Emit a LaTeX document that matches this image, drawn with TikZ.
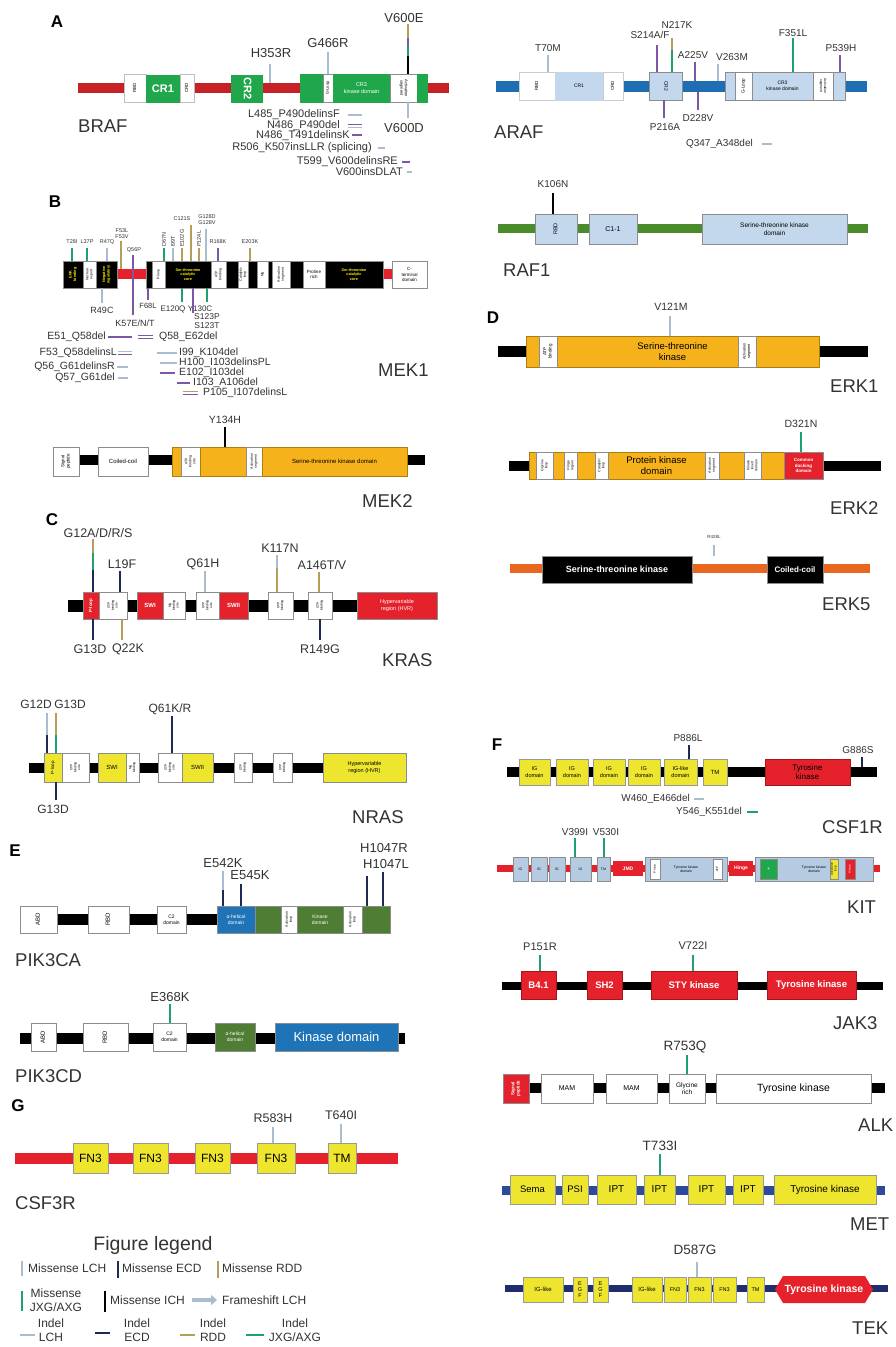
\documentclass[tikz,border=0pt]{standalone}
\usepackage{fontspec}
\setmainfont{Liberation Sans}
\usepackage{graphicx}
\usetikzlibrary{arrows.meta}
\definecolor{bred}{HTML}{C62127}
\definecolor{bgreen}{HTML}{21A74B}
\definecolor{ablue}{HTML}{1F6EB4}
\definecolor{lblue}{HTML}{C3D8EC}
\definecolor{rgreen}{HTML}{4A8B2C}
\definecolor{orng}{HTML}{F6B21B}
\definecolor{kred}{HTML}{E5222B}
\definecolor{kyel}{HTML}{EEE62E}
\definecolor{pblue}{HTML}{1F74B8}
\definecolor{pgreen}{HTML}{4F7D33}
\definecolor{eorg}{HTML}{E8661E}
\definecolor{metblue}{HTML}{2B4A9B}
\definecolor{tekblue}{HTML}{1F2C6E}
\definecolor{cLCH}{HTML}{A8BDCF}
\definecolor{cECD}{HTML}{1D2A55}
\definecolor{cRDD}{HTML}{B59D5A}
\definecolor{cJXG}{HTML}{1FA06E}
\definecolor{cPUR}{HTML}{7B57A5}
\definecolor{txt}{HTML}{333333}
\definecolor{kitblue}{HTML}{B4CBE2}
\newcommand\fz[1]{\fontsize{#1}{\the\dimexpr #1pt*23/20\relax}\selectfont}
\newcommand\rt[1]{\rotatebox{90}{\begin{tabular}{@{}c@{}}#1\end{tabular}}}
\newcommand\rtm[1]{\rotatebox{-90}{\begin{tabular}{@{}c@{}}#1\end{tabular}}}
\newcommand\dom[7]{\node[dombox,minimum width={(#3-#2)*1pt},minimum height={(#5-#4)*1pt},#6] (#1) at ({(#2+#3)/2},{(#4+#5)/2}) {#7};}
\newcommand\mk[4]{\draw[mkline,#4] (#1,#2) -- (#1,#3);}
\newcommand\il[4]{\draw[illine,#4] (#1,#3) -- (#2,#3);}
\newcommand\lb[6]{\node[lab,font=\fz{#4},#5] (#1) at (#2,#3) {#6};}
\newcommand\bk[5]{\fill[#5] (#1,#3) rectangle (#2,#4);}
\tikzset{
 dombox/.style={draw=black!45, line width=0.4pt, inner sep=0pt, outer sep=0pt, align=center, font=\fz{5}},
 lab/.style={inner sep=0pt, text=txt},
 gname/.style={inner sep=0pt, anchor=west, text=txt, font=\fz{18.5}},
 panel/.style={inner sep=0pt, font=\bfseries\fz{17}, text=black},
 mkline/.style={line width=1.5pt},
 illine/.style={line width=1.4pt},
 mekb/.style={fill=black,text=yellow,font=\bfseries\fz{3.8}},
 mekw/.style={fill=white,font=\fz{3.5}},
 kr/.style={fill=kred,text=white,font=\bfseries\fz{6}},
 kw/.style={fill=white,font=\fz{3.3}},
 ny/.style={fill=kyel,font=\fz{6}},
 kb/.style={fill=kitblue,font=\fz{3.5}},
 yb/.style={fill=kyel,draw=black!40,font=\fz{9}},
 rlab/.style={lab,font=\fz{5.5},rotate=90,anchor=west},
}
\begin{document}
\begin{tikzpicture}[x=1pt,y=-1pt]
\useasboundingbox (0,0) rectangle (896,1347);
\fill[white] (0,0) rectangle (896,1347);

%% ---------------- A: BRAF
\node[panel] (pA) at (57,22) {A};
\bk{78}{449}{83}{93}{bred}
\dom{brafRBD}{124}{146}{74}{102}{fill=white,draw=black!25,font=\fz{4.5}}{\rt{RBD}}
\dom{brafCR1}{146}{180}{75}{102}{fill=bgreen,draw=bgreen,text=white,font=\bfseries\fz{11}}{CR1}
\dom{brafCRD}{180}{194}{74}{102}{fill=white,draw=black!25,font=\fz{4.5}}{\rt{CRD}}
\dom{brafCR2}{231}{262}{75}{102}{fill=bgreen,draw=bgreen,text=white,font=\bfseries\fz{11}}{\rtm{CR2}}
\dom{brafKa}{300}{323}{74}{102}{fill=bgreen,draw=bgreen}{}
\dom{brafGL}{323}{333}{74}{102}{fill=white,font=\fz{4}}{\rt{G-Loop}}
\dom{brafCR3}{333}{390}{74}{102}{fill=bgreen,draw=bgreen,text=white,font=\fz{5.5}}{CR3\\kinase domain}
\dom{brafAS}{390}{417}{74}{102}{fill=white,font=\fz{4}}{\rtm{Activation\\segment}}
\dom{brafKb}{417}{427}{74}{102}{fill=bgreen,draw=bgreen}{}
\lb{mH353R}{271}{53}{13}{}{H353R} \mk{270}{64}{83}{cLCH}
\lb{mG466R}{328}{43}{13}{}{G466R} \mk{328}{52}{74}{cLCH}
\lb{mV600E}{404}{18}{13}{}{V600E}
\mk{408}{24}{38}{cRDD}\mk{408}{38}{46}{cPUR}\mk{408}{46}{56}{cJXG}\mk{408}{56}{74}{black}
\lb{mV600D}{404}{128}{13}{}{V600D} \mk{408}{102}{118}{cLCH}
\lb{iB1}{340}{115}{11}{anchor=east}{L485\_P490delinsF} \il{348}{362}{115}{cLCH}
\lb{iB2}{340}{126}{11}{anchor=east}{N486\_P490del} \il{348}{362}{124.5}{cPUR}\il{348}{362}{127.5}{cLCH}
\lb{iB3}{350}{136}{11}{anchor=east}{N486\_T491delinsK} \il{352}{362}{135}{cPUR}
\lb{iB4}{372}{148}{11}{anchor=east}{R506\_K507insLLR (splicing)} \il{378}{385}{148}{cLCH}
\lb{iB5}{398}{162}{11}{anchor=east}{T599\_V600delinsRE} \il{402}{410}{162}{cPUR}
\lb{iB6}{403}{172}{11}{anchor=east}{V600insDLAT} \il{407}{412}{172}{cLCH}
\node[gname] (gBRAF) at (78,126) {BRAF};

%% ---------------- ARAF
\bk{496}{867}{81}{92}{ablue}
\dom{arafRBD}{519}{555}{72}{100}{fill=white,draw=black!20,font=\fz{4.5}}{\rt{RBD}}
\dom{arafCR1}{555}{603}{72}{100}{fill=lblue,draw=lblue,font=\fz{5}}{CR1}
\dom{arafCRD}{603}{623}{72}{100}{fill=white,draw=black!20,font=\fz{4.5}}{\rt{CRD}}
\dom{arafCR2}{649}{682}{72}{100}{fill=lblue,font=\fz{5}}{\rtm{CR2}}
\dom{arafKa}{725}{735}{72}{100}{fill=lblue}{}
\dom{arafGL}{735}{752}{72}{100}{fill=white,font=\fz{4.5}}{\rt{G-Loop}}
\dom{arafCR3}{752}{813}{72}{100}{fill=lblue,font=\fz{5}}{CR3\\kinase domain}
\dom{arafAS}{813}{833}{72}{100}{fill=white,font=\fz{3.5}}{\rtm{Activation\\segment}}
\dom{arafKb}{833}{845}{72}{100}{fill=lblue}{}
\lb{mT70M}{548}{48}{10}{}{T70M} \mk{548}{55}{72}{cLCH}
\lb{mS214}{650}{35}{10}{}{S214A/F} \mk{657}{45}{72}{cPUR}
\lb{mN217K}{677}{25}{10}{}{N217K} \mk{672}{38}{50}{cRDD}\mk{672}{50}{72}{cJXG}
\lb{mA225V}{693}{55}{10}{}{A225V} \mk{695}{62}{81}{cPUR}
\lb{mV263M}{732}{57}{10}{}{V263M} \mk{718}{64}{81}{cLCH}
\lb{mF351L}{793}{33}{10}{}{F351L} \mk{793}{38}{72}{cJXG}
\lb{mP539H}{841}{48}{10}{}{P539H} \mk{840}{55}{72}{cPUR}
\lb{mP216A}{665}{127}{10}{}{P216A} \mk{664}{100}{118}{cPUR}
\lb{mD228V}{698}{118}{10}{}{D228V} \mk{698}{92}{110}{cPUR}
\lb{iA1}{753}{144}{10}{anchor=east}{Q347\_A348del} \il{762}{772}{144}{cLCH}
\node[gname] (gARAF) at (494,132) {ARAF};

%% ---------------- RAF1
\bk{498}{868}{224}{233}{rgreen}
\dom{rafRBD}{535}{577}{214}{244}{fill=lblue,font=\fz{5.5}}{\rt{RBD}}
\dom{rafC1}{589}{637}{214}{244}{fill=lblue,font=\fz{7}}{C1-1}
\dom{rafKD}{702}{847}{214}{244}{fill=lblue,font=\fz{6.5}}{Serine-threonine kinase\\domain}
\lb{mK106N}{553}{184}{10}{}{K106N} \mk{553}{193}{214}{black}
\node[gname] (gRAF1) at (503,270) {RAF1};

%% ---------------- B: MEK1
\node[panel] (pB) at (55,202) {B};
\bk{100}{400}{269}{279}{kred}
\dom{mkA}{63}{83}{261}{288}{mekb}{\rt{ERK\\binding}}
\dom{mkB}{83}{96}{261}{288}{mekw}{\rt{Nuclear\\export}}
\dom{mkC}{96}{117}{261}{288}{mekb}{\rt{Negative\\regulatory}}
\dom{mkD}{146}{152}{261}{288}{mekb}{}
\dom{mkE}{152}{165}{261}{288}{mekw}{\rt{P-loop}}
\dom{mkF}{165}{211}{261}{288}{mekb}{Ser-threonine\\catalytic\\core}
\dom{mkG}{211}{226}{261}{288}{mekw}{\rt{ATP\\binding}}
\dom{mkH}{226}{238}{261}{288}{mekb}{}
\dom{mkI}{238}{248}{261}{288}{mekw}{\rt{Catalytic\\loop}}
\dom{mkJ}{248}{257}{261}{288}{mekb}{}
\dom{mkK}{257}{268}{261}{288}{mekw}{\rt{Mg}}
\dom{mkL}{268}{272}{261}{288}{mekb}{}
\dom{mkM}{272}{290}{261}{288}{mekw}{\rt{Activation\\segment}}
\dom{mkN}{290}{303}{261}{288}{mekb}{}
\dom{mkO}{303}{325}{261}{288}{mekw,font=\fz{4.5}}{Proline\\rich}
\dom{mkP}{325}{383}{261}{288}{mekb}{Ser-threonine\\catalytic\\core}
\dom{mkQ}{392}{427}{261}{288}{mekw,font=\fz{4.5}}{C-\\terminal\\domain}
% above
\lb{mT28I}{72}{242}{5.5}{}{T28I} \mk{72}{248}{261}{cJXG}
\lb{mL37P}{87}{242}{5.5}{}{L37P} \mk{87}{248}{261}{cJXG}
\lb{mR47Q}{107}{242}{5.5}{}{R47Q} \mk{107}{248}{261}{cLCH}
\lb{mF53L}{122}{231}{5.5}{}{F53L} \lb{mF53V}{122}{237}{5.5}{}{F53V} \mk{121}{241}{269}{cRDD}
\lb{mQ56P}{134}{250}{5.5}{}{Q56P} \mk{133}{255}{315}{cPUR}
\node[rlab] (mD67N) at (164,247) {D67N}; \mk{164}{248}{261}{cJXG}
\node[rlab] (mI99T) at (173,247) {I99T}; \mk{173}{248}{261}{cLCH}
\node[rlab] (mE102G) at (182,247) {E102G}; \mk{182}{248}{261}{cRDD}
\lb{mC121S}{182}{219}{5.5}{}{C121S} \mk{191}{225}{261}{cRDD}
\node[rlab] (mP124L) at (199,247) {P124L}; \mk{199}{248}{261}{cRDD}
\lb{mG128D}{207}{217}{5.5}{}{G128D} \lb{mG128V}{207}{223}{5.5}{}{G128V} \mk{206}{229}{261}{cLCH}
\lb{mR168K}{218}{242}{5.5}{}{R168K} \mk{218}{248}{261}{cPUR}
\lb{mE203K}{250}{242}{5.5}{}{E203K} \mk{250}{248}{261}{cRDD}
% below
\lb{mR49C}{102}{310}{9}{}{R49C} \mk{102}{288}{303}{cLCH}
\lb{mF68L}{148}{306}{7.5}{}{F68L} \mk{148}{288}{300}{cPUR}
\lb{mE120Q}{173}{309}{8}{}{E120Q} \mk{182}{288}{302}{cJXG}
\lb{mY130C}{200}{309}{8}{}{Y130C} \mk{207}{288}{302}{cJXG}
\lb{mS123P}{207}{317}{8.5}{}{S123P} \lb{mS123T}{207}{326}{8.5}{}{S123T} \mk{193}{288}{313}{cPUR}
\lb{mK57}{135}{323}{9}{}{K57E/N/T}
% indels
\lb{iM1}{106}{337}{10.5}{anchor=east}{E51\_Q58del} \il{108}{132}{337}{cPUR}
\il{138}{153}{335.5}{cPUR}\il{138}{153}{338.5}{cPUR}
\lb{iM2}{159}{337}{10.5}{anchor=west}{Q58\_E62del}
\lb{iM3}{117}{353}{10.5}{anchor=east}{F53\_Q58delinsL} \il{118}{132}{351.5}{cLCH}\il{118}{132}{354.5}{cPUR}
\lb{iM4}{179}{353}{10.5}{anchor=west}{I99\_K104del} \il{157}{177}{353}{cLCH}
\lb{iM5}{115}{367}{10.5}{anchor=east}{Q56\_G61delinsR} \il{117}{128}{367}{cLCH}
\lb{iM6}{179}{363}{10.5}{anchor=west}{H100\_I103delinsPL} \il{160}{177}{363}{cLCH}
\lb{iM7}{115}{378}{10.5}{anchor=east}{Q57\_G61del} \il{118}{128}{378}{cLCH}
\lb{iM8}{179}{373}{10.5}{anchor=west}{E102\_I103del} \il{160}{175}{373}{cPUR}
\lb{iM9}{193}{383}{10.5}{anchor=west}{I103\_A106del} \il{177}{190}{383}{cPUR}
\lb{iM10}{203}{393}{10.5}{anchor=west}{P105\_I107delinsL} \il{183}{198}{391.5}{cRDD}\il{183}{198}{394.5}{cPUR}
\node[gname] (gMEK1) at (378,370) {MEK1};

%% ---------------- MEK2
\bk{79}{425}{455}{465}{black}
\dom{m2SP}{53}{79}{447}{476}{fill=white,font=\fz{4.5}}{\rt{Signal\\peptide}}
\dom{m2CC}{98}{148}{447}{476}{fill=white,font=\fz{6}}{Coiled-coil}
\dom{m2a}{172}{181}{447}{476}{fill=orng,draw=orng!70!black}{}
\dom{m2b}{181}{200}{447}{476}{fill=white,font=\fz{3.5}}{\rt{ATP\\binding\\site}}
\dom{m2c}{200}{246}{447}{476}{fill=orng,draw=orng!70!black}{}
\dom{m2d}{246}{262}{447}{476}{fill=white,font=\fz{3.5}}{\rt{Activation\\segment}}
\dom{m2e}{262}{407}{447}{476}{fill=orng,draw=orng!70!black,font=\fz{6}}{Serine-threonine kinase domain}
\lb{mY134H}{225}{420}{10.5}{}{Y134H} \mk{225}{427}{447}{black}
\node[gname] (gMEK2) at (362,501) {MEK2};

%% ---------------- C: KRAS
\node[panel] (pC) at (52,520) {C};
\bk{68}{357}{600}{612}{black}
\dom{krA}{83}{99}{592}{619}{kr,font=\bfseries\fz{4.5}}{\rt{P-loop}}
\dom{krB}{99}{127}{592}{619}{kw}{\rt{GTP\\binding\\site}}
\dom{krC}{137}{163}{592}{619}{kr}{SWI}
\dom{krD}{163}{185}{592}{619}{kw}{\rt{Mg\\binding\\site}}
\dom{krE}{196}{219}{592}{619}{kw}{\rt{GTP\\binding\\site}}
\dom{krF}{219}{248}{592}{619}{kr}{SWII}
\dom{krG}{268}{293}{592}{619}{kw}{\rt{GTP\\binding}}
\dom{krH}{308}{332}{592}{619}{kw}{\rt{GTP\\binding}}
\dom{krI}{357}{437}{592}{619}{kr,font=\fz{5.5}}{Hypervariable\\region (HVR)}
\lb{mG12}{98}{533}{12.5}{}{G12A/D/R/S}
\mk{93}{539}{553}{cRDD}\mk{93}{553}{570}{cJXG}\mk{93}{570}{592}{cECD}
\lb{mL19F}{122}{564}{12.5}{}{L19F} \mk{120}{571}{592}{cECD}
\lb{mQ61H}{203}{564}{12.5}{}{Q61H} \mk{205}{571}{592}{cLCH}
\lb{mK117N}{280}{548}{12.5}{}{K117N} \mk{277}{555}{568}{cLCH}\mk{277}{568}{592}{cRDD}
\lb{mA146}{322}{565}{12.5}{}{A146T/V} \mk{319}{572}{592}{cRDD}
\lb{mG13Dk}{90}{649}{12.5}{}{G13D} \mk{93}{619}{640}{cECD}
\lb{mQ22K}{128}{649}{12.5}{}{Q22K} \mk{122}{619}{640}{cRDD}
\lb{mR149G}{320}{649}{12.5}{}{R149G} \mk{320}{619}{640}{cECD}
\node[gname] (gKRAS) at (382,660) {KRAS};

%% ---------------- NRAS
\bk{29}{323}{763}{773}{black}
\dom{nrA}{44}{62}{753}{782}{ny,font=\fz{4.5}}{\rt{P-loop}}
\dom{nrB}{62}{89}{753}{782}{kw}{\rt{GTP\\binding\\site}}
\dom{nrC}{98}{126}{753}{782}{ny}{SWI}
\dom{nrD}{126}{139}{753}{782}{kw}{\rt{Mg\\binding}}
\dom{nrE}{158}{182}{753}{782}{kw}{\rt{GTP\\binding\\site}}
\dom{nrF}{182}{213}{753}{782}{ny}{SWII}
\dom{nrG}{234}{252}{753}{782}{kw}{\rt{GTP\\binding}}
\dom{nrH}{273}{292}{753}{782}{kw}{\rt{GTP\\binding}}
\dom{nrI}{323}{406}{753}{782}{ny,font=\fz{5.5}}{Hypervariable\\region (HVR)}
\lb{mG12D}{36}{704}{12}{}{G12D}
\lb{mG13Dn}{70}{704}{12}{}{G13D}
\lb{mQ61KR}{170}{709}{12}{}{Q61K/R}
\mk{47}{713}{735}{cLCH}\mk{47}{735}{753}{cECD}
\mk{56}{713}{735}{cRDD}\mk{56}{735}{753}{cJXG}
\mk{172}{716}{753}{cECD}
\lb{mG13Db}{53}{809}{12}{}{G13D} \mk{56}{782}{800}{cECD}
\node[gname] (gNRAS) at (352,817) {NRAS};

%% ---------------- E: PIK3CA
\node[panel] (pE) at (15,851) {E};
\bk{20}{390}{914}{925}{black}
\dom{p1A}{20}{57}{906}{933}{fill=white,font=\fz{6}}{\rt{ABD}}
\dom{p1B}{88}{129}{906}{933}{fill=white,font=\fz{6}}{\rt{RBD}}
\dom{p1C}{157}{186}{906}{933}{fill=white,font=\fz{5}}{C2\\domain}
\dom{p1D}{217}{255}{906}{933}{fill=pblue,text=white,font=\fz{5}}{α-helical\\domain}
\dom{p1E}{255}{281}{906}{933}{fill=pgreen}{}
\dom{p1F}{281}{297}{906}{933}{fill=white,font=\fz{3.5}}{\rt{Activation\\loop}}
\dom{p1G}{297}{343}{906}{933}{fill=pgreen,text=white,font=\fz{5}}{Kinase\\domain}
\dom{p1H}{343}{362}{906}{933}{fill=white,font=\fz{3.5}}{\rt{Activation\\loop}}
\dom{p1I}{362}{390}{906}{933}{fill=pgreen}{}
\lb{mE542K}{223}{863}{13}{}{E542K} \mk{223}{871}{890}{cLCH}\mk{223}{890}{906}{cECD}
\lb{mE545K}{250}{875}{13}{}{E545K} \mk{241}{884}{906}{cECD}
\lb{mH1047R}{384}{848}{13}{}{H1047R} \lb{mH1047L}{386}{864}{13}{}{H1047L}
\mk{367}{876}{906}{cECD}\mk{383}{872}{906}{cECD}
\node[gname] (gPIK3CA) at (15,960) {PIK3CA};

%% ---------------- PIK3CD
\bk{20}{405}{1033}{1044}{black}
\dom{p2A}{31}{56}{1023}{1051}{fill=white,font=\fz{6}}{\rt{ABD}}
\dom{p2B}{83}{128}{1023}{1051}{fill=white,font=\fz{6}}{\rt{RBD}}
\dom{p2C}{153}{186}{1023}{1051}{fill=white,font=\fz{5}}{C2\\domain}
\dom{p2D}{215}{255}{1023}{1051}{fill=pgreen,text=white,font=\fz{5}}{α-helical\\domain}
\dom{p2E}{275}{398}{1023}{1051}{fill=pblue,text=white,font=\fz{13}}{Kinase domain}
\lb{mE368K}{170}{997}{13}{}{E368K} \mk{170}{1004}{1023}{cJXG}
\node[gname] (gPIK3CD) at (15,1076) {PIK3CD};

%% ---------------- G: CSF3R
\node[panel] (pG) at (18,1106) {G};
\bk{15}{398}{1153}{1164}{kred}
\dom{c3A}{73}{108}{1143}{1173}{yb,font=\fz{12}}{FN3}
\dom{c3B}{133}{168}{1143}{1173}{yb,font=\fz{12}}{FN3}
\dom{c3C}{195}{230}{1143}{1173}{yb,font=\fz{12}}{FN3}
\dom{c3D}{257}{295}{1143}{1173}{yb,font=\fz{12}}{FN3}
\dom{c3E}{328}{356}{1143}{1173}{yb,font=\fz{12}}{TM}
\lb{mR583H}{273}{1118}{12.5}{}{R583H} \mk{273}{1127}{1143}{cLCH}
\lb{mT640I}{341}{1115}{12.5}{}{T640I} \mk{341}{1124}{1143}{cLCH}
\node[gname] (gCSF3R) at (15,1203) {CSF3R};

%% legend
\node[lab,font=\fz{19.5}] (legT) at (153,1245) {Figure legend};
\mk{22}{1261}{1276}{cLCH} \lb{lg1}{28}{1268}{12}{anchor=west}{Missense LCH}
\mk{118}{1261}{1278}{cECD} \lb{lg2}{122}{1268}{12}{anchor=west}{Missense ECD}
\mk{218}{1261}{1278}{cRDD} \lb{lg3}{222}{1268}{12}{anchor=west}{Missense RDD}
\mk{22}{1291}{1311}{cJXG} \node[lab,font=\fz{12},align=center] (lg4) at (56,1300) {Missense\\JXG/AXG};
\mk{105}{1291}{1312}{black} \lb{lg5}{110}{1300}{12}{anchor=west}{Missense ICH}
\coordinate (arA) at (192,1300); \coordinate (arB) at (217,1300);
\draw[line width=4pt,cLCH,-{Triangle[length=6pt,width=10pt]}] (arA) -- (arB);
\lb{lg6}{222}{1300}{12}{anchor=west}{Frameshift LCH}
\il{20}{35}{1335}{cLCH} \node[lab,font=\fz{12},align=center] (lg7) at (51,1330) {Indel\\LCH};
\il{95}{110}{1333}{cECD} \node[lab,font=\fz{12},align=center] (lg8) at (137,1330) {Indel\\ECD};
\il{180}{195}{1335}{cRDD} \node[lab,font=\fz{12},align=center] (lg9) at (213,1330) {Indel\\RDD};
\il{246}{264}{1335}{cJXG} \node[lab,font=\fz{12},align=center] (lg10) at (295,1330) {Indel\\JXG/AXG};

%% ---------------- D: ERK
\node[panel] (pD) at (493,318) {D};
\bk{498}{868}{346}{357}{black}
\dom{e1}{526}{819}{336}{367}{fill=orng,draw=orng!70!black,font=\fz{9.5}}{Serine-threonine\\kinase}
\dom{e1a}{539}{557}{336}{367}{fill=white,font=\fz{4.5}}{\rt{ATP\\binding}}
\dom{e1b}{738}{756}{336}{367}{fill=white,font=\fz{3.8}}{\rt{Activation\\segment}}
\lb{mV121M}{671}{307}{10.5}{}{V121M} \mk{670}{316}{336}{cLCH}
\node[gname] (gERK1) at (830,386) {ERK1};
\bk{509}{881}{461}{471}{black}
\dom{e2}{529}{784}{452}{479}{fill=orng,draw=orng!70!black,font=\fz{9.5}}{Protein kinase\\domain}
\dom{e2a}{536}{553}{452}{479}{fill=white,font=\fz{3.5}}{\rt{Glycine\\loop}}
\dom{e2b}{564}{577}{452}{479}{fill=white,font=\fz{3.5}}{\rt{Hinge\\region}}
\dom{e2c}{595}{608}{452}{479}{fill=white,font=\fz{3.5}}{\rt{Catalytic\\loop}}
\dom{e2d}{705}{719}{452}{479}{fill=white,font=\fz{3.5}}{\rt{Activation\\segment}}
\dom{e2e}{744}{761}{452}{479}{fill=white,font=\fz{3.5}}{\rt{Kinase\\insert\\domain}}
\dom{e2f}{784}{823}{452}{479}{fill=kred,text=white,font=\bfseries\fz{4.5}}{Common\\docking\\domain}
\lb{mD321N}{801}{424}{10.5}{}{D321N} \mk{801}{432}{452}{cJXG}
\node[gname] (gERK2) at (830,508) {ERK2};
\bk{510}{870}{564}{573}{eorg}
\dom{e5a}{542}{692}{556}{583}{fill=black,text=white,font=\bfseries\fz{9}}{Serine-threonine kinase}
\dom{e5b}{767}{823}{556}{583}{fill=black,text=white,font=\bfseries\fz{8}}{Coiled-coil}
\lb{mR428L}{714}{537}{4.5}{}{R428L} \mk{714}{545}{556}{cLCH}
\node[gname] (gERK5) at (822,604) {ERK5};

%% ---------------- F: CSF1R
\node[panel] (pF) at (497,745) {F};
\bk{507}{877}{767}{777}{black}
\dom{c1a}{519}{550}{759}{785}{yb,font=\fz{5.5}}{IG\\domain}
\dom{c1b}{556}{588}{759}{785}{yb,font=\fz{5.5}}{IG\\domain}
\dom{c1c}{593}{625}{759}{785}{yb,font=\fz{5.5}}{IG\\domain}
\dom{c1d}{628}{660}{759}{785}{yb,font=\fz{5.5}}{IG\\domain}
\dom{c1e}{664}{697}{759}{785}{yb,font=\fz{5.5}}{IG-like\\domain}
\dom{c1f}{703}{727}{759}{785}{yb,font=\fz{6}}{TM}
\dom{c1g}{765}{850}{759}{785}{fill=kred,draw=kred!70!black,font=\fz{8}}{Tyrosine\\kinase}
\lb{mP886L}{688}{738}{10}{}{P886L} \mk{689}{745}{759}{cECD}
\lb{mG886S}{858}{750}{10}{}{G886S} \mk{862}{757}{767}{cECD}
\lb{iC1}{690}{799}{10}{anchor=east}{W460\_E466del} \il{694}{704}{799}{cLCH}
\lb{iC2}{742}{812}{10}{anchor=east}{Y546\_K551del} \il{747}{758}{812}{cJXG}
\node[gname] (gCSF1R) at (822,827) {CSF1R};

%% ---------------- KIT
\bk{497}{880}{865}{872}{kred}
\dom{k1}{513}{528}{857}{881}{kb}{IG}
\dom{k2}{531}{547}{857}{881}{kb}{IG}
\dom{k3}{549}{565}{857}{881}{kb}{IG}
\dom{k4}{570}{591}{857}{881}{kb}{IG}
\dom{k5}{597}{610}{857}{881}{kb}{TM}
\dom{kJMD}{613}{643}{861}{876}{fill=kred,draw=none,text=white,font=\bfseries\fz{5}}{JMD}
\dom{kTKa}{645}{727}{857}{881}{kb}{Tyrosine kinase\\domain}
\dom{kTKa1}{650}{660}{859}{879}{fill=white,font=\fz{3}}{\rt{P-loop}}
\dom{kTKa2}{713}{722}{859}{879}{fill=white,font=\fz{3}}{\rt{ATP}}
\dom{kHinge}{729}{753}{861}{876}{fill=kred,draw=none,text=white,font=\bfseries\fz{5}}{Hinge}
\dom{kTKb}{755}{873}{857}{881}{kb}{Tyrosine kinase\\domain}
\dom{kTKb1}{760}{777}{859}{879}{fill=bgreen,text=white,font=\fz{5}}{+}
\dom{kTKb2}{830}{838}{859}{879}{fill=kyel,font=\fz{3}}{\rt{Activation\\loop}}
\dom{kTKb3}{845}{855}{859}{879}{fill=kred,text=white,font=\fz{3}}{\rt{Kinase}}
\lb{mV399I}{575}{832}{10}{}{V399I} \mk{575}{838}{857}{cJXG}
\lb{mV530I}{606}{832}{10}{}{V530I} \mk{604}{838}{857}{cJXG}
\node[gname] (gKIT) at (847,907) {KIT};

%% ---------------- JAK3
\bk{502}{883}{982}{990}{black}
\dom{j1}{521}{556}{971}{999}{fill=kred,draw=kred!70!black,text=white,font=\bfseries\fz{9.5}}{B4.1}
\dom{j2}{587}{622}{971}{999}{fill=kred,draw=kred!70!black,text=white,font=\bfseries\fz{9.5}}{SH2}
\dom{j3}{651}{737}{971}{999}{fill=kred,draw=kred!70!black,text=white,font=\bfseries\fz{9.5}}{STY kinase}
\dom{j4}{767}{856}{971}{999}{fill=kred,draw=kred!70!black,text=white,font=\bfseries\fz{9.5}}{Tyrosine kinase}
\lb{mP151R}{540}{947}{11}{}{P151R} \mk{540}{955}{971}{cJXG}
\lb{mV722I}{693}{946}{11}{}{V722I} \mk{693}{955}{971}{cJXG}
\node[gname] (gJAK3) at (833,1023) {JAK3};

%% ---------------- ALK
\bk{529}{885}{1083}{1093}{black}
\dom{a1}{503}{529}{1074}{1103}{fill=kred,text=white,font=\bfseries\fz{4.5}}{\rt{Signal\\peptide}}
\dom{a2}{541}{593}{1074}{1103}{fill=white,font=\fz{7}}{MAM}
\dom{a3}{606}{657}{1074}{1103}{fill=white,font=\fz{7}}{MAM}
\dom{a4}{669}{705}{1074}{1103}{fill=white,font=\fz{6.5}}{Glycine\\rich}
\dom{a5}{716}{871}{1074}{1103}{fill=white,font=\fz{10.5}}{Tyrosine kinase}
\lb{mR753Q}{685}{1047}{13.5}{}{R753Q} \mk{687}{1055}{1074}{cJXG}
\node[gname] (gALK) at (858,1125) {ALK};

%% ---------------- MET
\lb{mT733I}{660}{1146}{13.5}{}{T733I} \mk{660}{1154}{1175}{cJXG}
\bk{502}{885}{1186}{1195}{metblue}
\dom{t1}{510}{555}{1175}{1204}{yb,font=\fz{9.5}}{Sema}
\dom{t2}{562}{588}{1175}{1204}{yb,font=\fz{9.5}}{PSI}
\dom{t3}{597}{636}{1175}{1204}{yb,font=\fz{10}}{IPT}
\dom{t4}{644}{675}{1175}{1204}{yb,font=\fz{10}}{IPT}
\dom{t5}{688}{725}{1175}{1204}{yb,font=\fz{10}}{IPT}
\dom{t6}{733}{763}{1175}{1204}{yb,font=\fz{10}}{IPT}
\dom{t7}{774}{876}{1175}{1204}{yb,font=\fz{10}}{Tyrosine kinase}
\node[gname] (gMET) at (850,1224) {MET};

%% ---------------- TEK
\lb{mD587G}{695}{1250}{13.5}{}{D587G} \mk{697}{1262}{1277}{cLCH}
\bk{505}{888}{1285}{1292}{tekblue}
\dom{s1}{523}{563}{1277}{1302}{yb,font=\fz{6}}{IG-like}
\dom{s2}{573}{587}{1277}{1302}{yb,font=\fz{5.5}}{E\\G\\F}
\dom{s3}{593}{608}{1277}{1302}{yb,font=\fz{5.5}}{E\\G\\F}
\dom{s4}{632}{662}{1277}{1302}{yb,font=\fz{6}}{IG-like}
\dom{s5}{664}{686}{1277}{1302}{yb,font=\fz{5.5}}{FN3}
\dom{s6}{688}{711}{1277}{1302}{yb,font=\fz{5.5}}{FN3}
\dom{s7}{713}{736}{1277}{1302}{yb,font=\fz{5.5}}{FN3}
\dom{s8}{747}{764}{1277}{1302}{yb,font=\fz{5.5}}{TM}
\fill[kred] (775,1289.5) -- (783,1276) -- (865,1276) -- (873,1289.5) -- (865,1303) -- (783,1303) -- cycle;
\node[lab,text=white,font=\bfseries\fz{10.5}] (sTK) at (824,1289.5) {Tyrosine kinase};
\node[gname] (gTEK) at (852,1328) {TEK};
\end{tikzpicture}
\end{document}
